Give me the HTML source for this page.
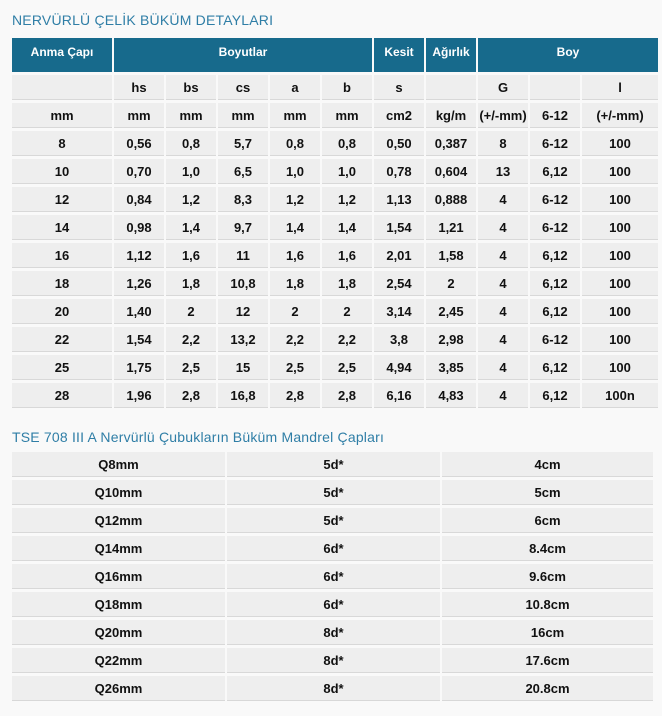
<!DOCTYPE html>
<html><head><meta charset="utf-8"><style>
body{margin:0;background:#f9f9f9;width:662px;height:716px;overflow:hidden;font-family:"Liberation Sans","DejaVu Sans",sans-serif;}
.t{position:absolute;left:12px;font-size:14px;color:#2f7ea6;letter-spacing:0.2px}
table{position:absolute;border-collapse:separate;font-weight:bold;font-size:13px;color:#111;table-layout:fixed}
td{background:#eee;border-bottom:1px solid #d8d8d8;text-align:center;padding:2px 0 0;height:22px;line-height:16px;white-space:nowrap}
th{background:#176a8c;color:#fff;height:34px;vertical-align:top;padding:7px 0 0;box-sizing:border-box;font-size:12px;white-space:nowrap}
#a{left:10px;top:35px;border-spacing:2px 3px}
#b{left:10px;top:449px;border-spacing:2px 3px}
</style></head><body>
<div class="t" style="top:12px">NERVÜRLÜ ÇELİK BÜKÜM DETAYLARI</div>
<table id="a">
<colgroup><col style="width:100px"><col style="width:50px"><col style="width:50px"><col style="width:50px"><col style="width:50px"><col style="width:50px"><col style="width:50px"><col style="width:50px"><col style="width:50px"><col style="width:50px"><col style="width:76px"></colgroup>
<tr><th>Anma Çapı</th><th colspan="5">Boyutlar</th><th>Kesit</th><th>Ağırlık</th><th colspan="3">Boy</th></tr>
<tr><td></td><td>hs</td><td>bs</td><td>cs</td><td>a</td><td>b</td><td>s</td><td></td><td>G</td><td></td><td>l</td></tr>
<tr><td>mm</td><td>mm</td><td>mm</td><td>mm</td><td>mm</td><td>mm</td><td>cm2</td><td>kg/m</td><td>(+/-mm)</td><td>6-12</td><td>(+/-mm)</td></tr>
<tr><td>8</td><td>0,56</td><td>0,8</td><td>5,7</td><td>0,8</td><td>0,8</td><td>0,50</td><td>0,387</td><td>8</td><td>6-12</td><td>100</td></tr>
<tr><td>10</td><td>0,70</td><td>1,0</td><td>6,5</td><td>1,0</td><td>1,0</td><td>0,78</td><td>0,604</td><td>13</td><td>6,12</td><td>100</td></tr>
<tr><td>12</td><td>0,84</td><td>1,2</td><td>8,3</td><td>1,2</td><td>1,2</td><td>1,13</td><td>0,888</td><td>4</td><td>6-12</td><td>100</td></tr>
<tr><td>14</td><td>0,98</td><td>1,4</td><td>9,7</td><td>1,4</td><td>1,4</td><td>1,54</td><td>1,21</td><td>4</td><td>6-12</td><td>100</td></tr>
<tr><td>16</td><td>1,12</td><td>1,6</td><td>11</td><td>1,6</td><td>1,6</td><td>2,01</td><td>1,58</td><td>4</td><td>6,12</td><td>100</td></tr>
<tr><td>18</td><td>1,26</td><td>1,8</td><td>10,8</td><td>1,8</td><td>1,8</td><td>2,54</td><td>2</td><td>4</td><td>6,12</td><td>100</td></tr>
<tr><td>20</td><td>1,40</td><td>2</td><td>12</td><td>2</td><td>2</td><td>3,14</td><td>2,45</td><td>4</td><td>6,12</td><td>100</td></tr>
<tr><td>22</td><td>1,54</td><td>2,2</td><td>13,2</td><td>2,2</td><td>2,2</td><td>3,8</td><td>2,98</td><td>4</td><td>6-12</td><td>100</td></tr>
<tr><td>25</td><td>1,75</td><td>2,5</td><td>15</td><td>2,5</td><td>2,5</td><td>4,94</td><td>3,85</td><td>4</td><td>6,12</td><td>100</td></tr>
<tr><td>28</td><td>1,96</td><td>2,8</td><td>16,8</td><td>2,8</td><td>2,8</td><td>6,16</td><td>4,83</td><td>4</td><td>6,12</td><td>100n</td></tr>
</table>
<div class="t" style="top:429px">TSE 708 III A Nervürlü Çubukların Büküm Mandrel Çapları</div>
<table id="b">
<colgroup><col style="width:213px"><col style="width:213px"><col style="width:211px"></colgroup>
<tr><td>Q8mm</td><td>5d*</td><td>4cm</td></tr>
<tr><td>Q10mm</td><td>5d*</td><td>5cm</td></tr>
<tr><td>Q12mm</td><td>5d*</td><td>6cm</td></tr>
<tr><td>Q14mm</td><td>6d*</td><td>8.4cm</td></tr>
<tr><td>Q16mm</td><td>6d*</td><td>9.6cm</td></tr>
<tr><td>Q18mm</td><td>6d*</td><td>10.8cm</td></tr>
<tr><td>Q20mm</td><td>8d*</td><td>16cm</td></tr>
<tr><td>Q22mm</td><td>8d*</td><td>17.6cm</td></tr>
<tr><td>Q26mm</td><td>8d*</td><td>20.8cm</td></tr>
</table>
</body></html>
